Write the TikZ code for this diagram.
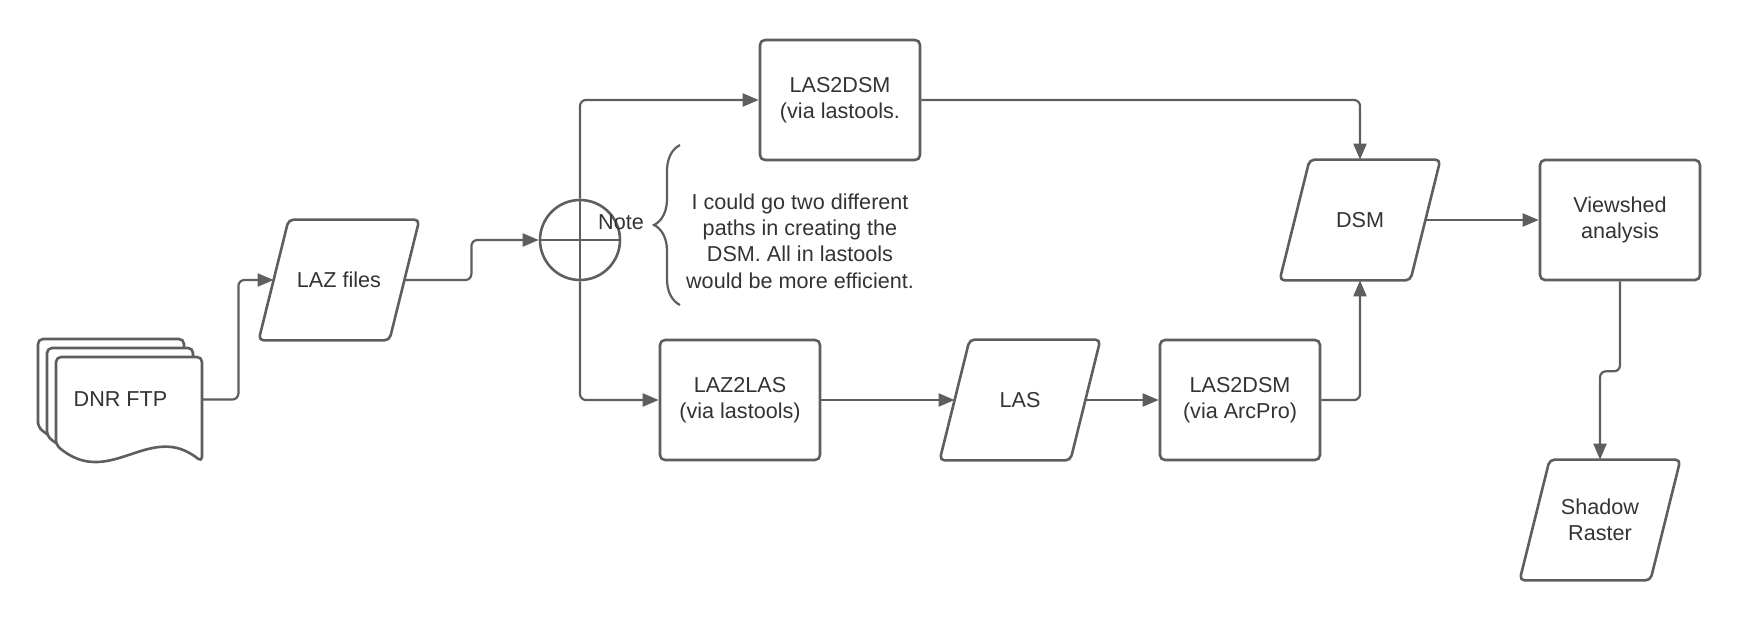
\documentclass[tikz,border=0pt]{standalone}
\usepackage{fontspec}
\setmainfont{Liberation Sans}
\usetikzlibrary{
arrows.meta,
positioning,
decorations.pathreplacing
}
\definecolor{lineg}{HTML}{5E5E5E}
\definecolor{textg}{HTML}{333333}
\tikzset{
  proc/.style={draw=lineg,line width=1.3pt,rounded corners=2.5pt,minimum width=80pt,minimum height=60pt,inner sep=0pt,align=center,text=textg},
  dataio/.style={minimum width=80pt,minimum height=60pt,inner sep=0pt,align=center,text=textg},
  border/.style={lineg,line width=1.3pt,rounded corners=2.5pt,line join=round},
  conn/.style={draw=lineg,line width=1.1pt,rounded corners=3pt,-{Triangle[length=8pt,width=6.5pt]}},
}

\begin{document}
\begin{tikzpicture}[x=0.5pt,y=-0.5pt,font=\fontsize{10.8}{13.2}\selectfont]
    \useasboundingbox (0,0) rectangle (1740,620);

    % stacked pages
    \foreach \d in {18,9,0}
      \draw[border,fill=white,shift={(-\d,-\d)}]
        (56,445) -- (56,357) -- (202,357) -- (202,462) .. controls (150,420) and (110,490) .. (56,445) -- cycle;
    \node[minimum width=81.5pt,minimum height=60.5pt,inner sep=0pt,text=textg] (dnr) at (120.5,399.5) {DNR FTP};

    \node[dataio] (laz) at (339,280) {LAZ files};
    \node[circle,draw=lineg,line width=1.3pt,minimum size=40pt,inner sep=0pt] (jn) at (580,240) {};
    \draw[lineg,line width=1.1pt] (jn.west) -- (jn.east) (jn.north) -- (jn.south);
    \node[text=textg] (notelbl) at (621,222) {Note};
    \node[align=center,text=textg] (note) at (800,241) {I could go two different\\paths in creating the\\DSM. All in lastools\\would be more efficient.};
    \draw[lineg,line width=1.1pt,decorate,decoration={brace,amplitude=13pt}] (680,305) -- (680,145);

    \node[proc] (top) at (840,100) {LAS2DSM\\(via lastools.};
    \node[proc] (l2l) at (740,400) {LAZ2LAS\\(via lastools)};
    \node[dataio] (las) at (1020,400) {LAS};
    \node[proc] (arc) at (1240,400) {LAS2DSM\\(via ArcPro)};
    \node[dataio] (dsm) at (1360,220) {DSM};
    \node[proc] (vs) at (1620,220) {Viewshed\\analysis};
    \node[dataio] (sr) at (1600,520) {Shadow\\Raster};

    % parallelograms
    \foreach \n in {laz,las,dsm,sr}
      \draw[border] ([xshift=15pt]\n.north west) -- (\n.north east) -- ([xshift=-15pt]\n.south east) -- (\n.south west) -- cycle;

    \draw[conn] (dnr.east) -- ++(36,0) |- ([xshift=7.5pt]laz.west);
    \draw[conn] ([xshift=-7.5pt]laz.east) -- ++(67,0) |- (jn);
    \draw[conn] (jn.north) |- (top);
    \draw[conn] (jn.south) |- (l2l);
    \draw[conn] (l2l) -- ([xshift=7.5pt]las.west);
    \draw[conn] ([xshift=-7.5pt]las.east) -- (arc);
    \draw[conn] (top) -| (dsm);
    \draw[conn] (arc) -| (dsm);
    \draw[conn] ([xshift=-7.5pt]dsm.east) -- (vs);
    \draw[conn] (vs.south) -- ++(0,90) -| (sr);
\end{tikzpicture}
\end{document}
